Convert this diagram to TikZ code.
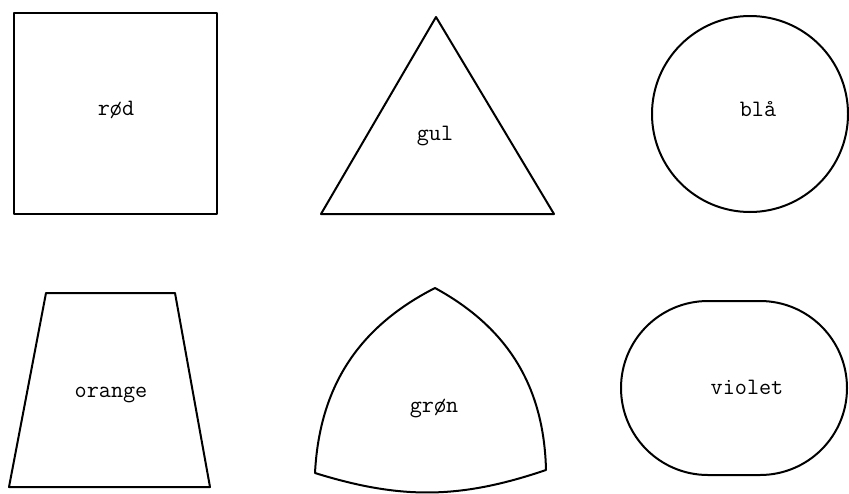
\documentclass[tikz,border=0pt]{standalone}
\usepackage{tikz}

\tikzset{
  form/.style={line width=2pt, line join=round},
  farve/.style={anchor=base, inner sep=0pt,
    font=\ttfamily\fontsize{23.5}{28}\selectfont}
}

\begin{document}
\begin{tikzpicture}[x=1pt, y=-1pt]
      \useasboundingbox (0,0) rectangle (849,493);
      \clip (0,0) rectangle (849,493);
      % upper row
      \draw[form] (14,13) rectangle (217,214);
      \node[farve] (rod) at (116,115) {rød};
      \draw[form] (436,17) -- (554,214) -- (321,214) -- cycle;
      \node[farve] (gul) at (435,140) {gul};
      \draw[form] (750,114) circle[radius=98];
      \node[farve] (bla) at (758,116) {blå};
      % lower row
      \draw[form] (46,293) -- (175,293) -- (210,487) -- (9,487) -- cycle;
      \node[farve] (orange) at (111,397) {orange};
      \draw[form] (435,288) to[bend left=30] (546,470)
        to[bend left=18] (315,473) to[bend left=30] cycle;
      \node[farve] (gron) at (434,412) {grøn};
      \draw[form, rounded corners=87pt] (621,301) rectangle (847,475);
      \node[farve] (violet) at (747,394) {violet};
    \end{tikzpicture}
\end{document}
